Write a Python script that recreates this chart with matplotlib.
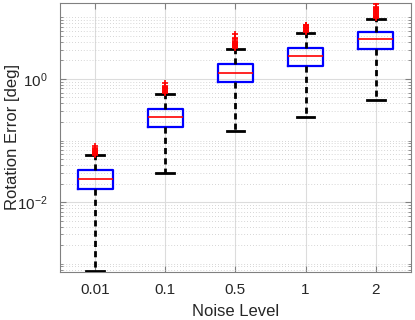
import matplotlib
matplotlib.use("Agg")
import matplotlib.pyplot as plt
from matplotlib.ticker import LogLocator, FixedLocator, NullFormatter

plt.rcParams['font.family'] = ['Liberation Sans', 'DejaVu Sans']
plt.rcParams['mathtext.fontset'] = 'custom'
plt.rcParams['mathtext.rm'] = 'Liberation Sans'
plt.rcParams['mathtext.it'] = 'Liberation Sans'

categories = ['0.01', '0.1', '0.5', '1', '2']
medians = [0.0239, 0.238, 1.27, 2.33, 4.40]
q1 = [0.0166, 0.166, 0.894, 1.65, 3.03]
q3 = [0.0327, 0.329, 1.77, 3.19, 5.81]
whislo = [0.00075, 0.0296, 0.144, 0.241, 0.46]
whishi = [0.0573, 0.570, 3.07, 5.51, 9.56]
outliers = [
    [0.059, 0.060, 0.061, 0.062, 0.063, 0.064, 0.065, 0.066, 0.068, 0.070, 0.072, 0.075, 0.080],
    [0.60, 0.62, 0.64, 0.66, 0.68, 0.70, 0.72, 0.74, 0.78, 0.86],
    [3.2, 3.3, 3.4, 3.5, 3.6, 3.7, 3.8, 3.9, 4.0, 4.2, 4.4, 4.7, 5.45],
    [5.8, 5.9, 6.0, 6.1, 6.2, 6.4, 6.6, 6.8, 7.0, 7.2, 7.4, 7.64],
    [9.8, 10.0, 10.3, 10.6, 11.0, 11.4, 11.8, 12.2, 12.6, 13.0, 13.5, 14.0, 14.7, 16.8],
]

stats = []
for i, c in enumerate(categories):
    stats.append(dict(label=c, med=medians[i], q1=q1[i], q3=q3[i],
                      whislo=whislo[i], whishi=whishi[i], fliers=outliers[i]))

fig = plt.figure(figsize=(4.15, 3.2), dpi=100)
ax = fig.add_axes([0.1446, 0.151, 0.8454, 0.839])

axcol = '#262626'
gridcol = '#dcdcdc'

ax.set_yscale('log')
ax.bxp(stats, positions=range(1, 6), widths=0.5, showfliers=True,
       boxprops=dict(color='blue', linewidth=1.6),
       medianprops=dict(color='red', linewidth=1.2),
       whiskerprops=dict(color='black', linewidth=2.0, linestyle=(0, (2.2, 1.5))),
       capprops=dict(color='black', linewidth=2.0),
       capwidths=0.25,
       flierprops=dict(marker='+', markeredgecolor='red', markersize=5, markeredgewidth=1.2, linestyle='none'),
       zorder=3)

ax.set_xlim(0.5, 5.5)
ax.set_ylim(7.4e-4, 17.0)
ax.set_xticks(range(1, 6))
ax.set_xticklabels(categories)

ax.yaxis.set_major_locator(FixedLocator([1e-2, 1e0]))
ax.yaxis.set_minor_locator(LogLocator(base=10, subs=[1, 2, 3, 4, 5, 6, 7, 8, 9], numticks=30))
ax.yaxis.set_minor_formatter(NullFormatter())
ax.set_yticklabels([r'$10^{-2}$', r'$10^{0}$'])

ax.grid(True, which='major', color=gridcol, linewidth=0.8, linestyle='-', zorder=0)
ax.grid(True, which='minor', axis='y', color='#c8c8c8', linewidth=0.6, linestyle=(0, (1, 2.5)), zorder=0)
ax.set_axisbelow(True)

for s in ax.spines.values():
    s.set_color('#808080')
    s.set_linewidth(0.8)

ax.tick_params(which='both', direction='in', top=True, right=True, colors='#808080',
               labelcolor=axcol, labelsize=11)
ax.tick_params(which='major', length=4)
ax.tick_params(which='minor', length=2)
ax.tick_params(axis='x', pad=8)
ax.tick_params(axis='y', pad=9)

ax.set_xlabel('Noise Level', fontsize=12, color=axcol, labelpad=5)
ax.set_ylabel('Rotation Error [deg]', fontsize=12, color=axcol)
ax.yaxis.set_label_coords(-0.115, 0.5)

fig.savefig('out.png', dpi=100)
